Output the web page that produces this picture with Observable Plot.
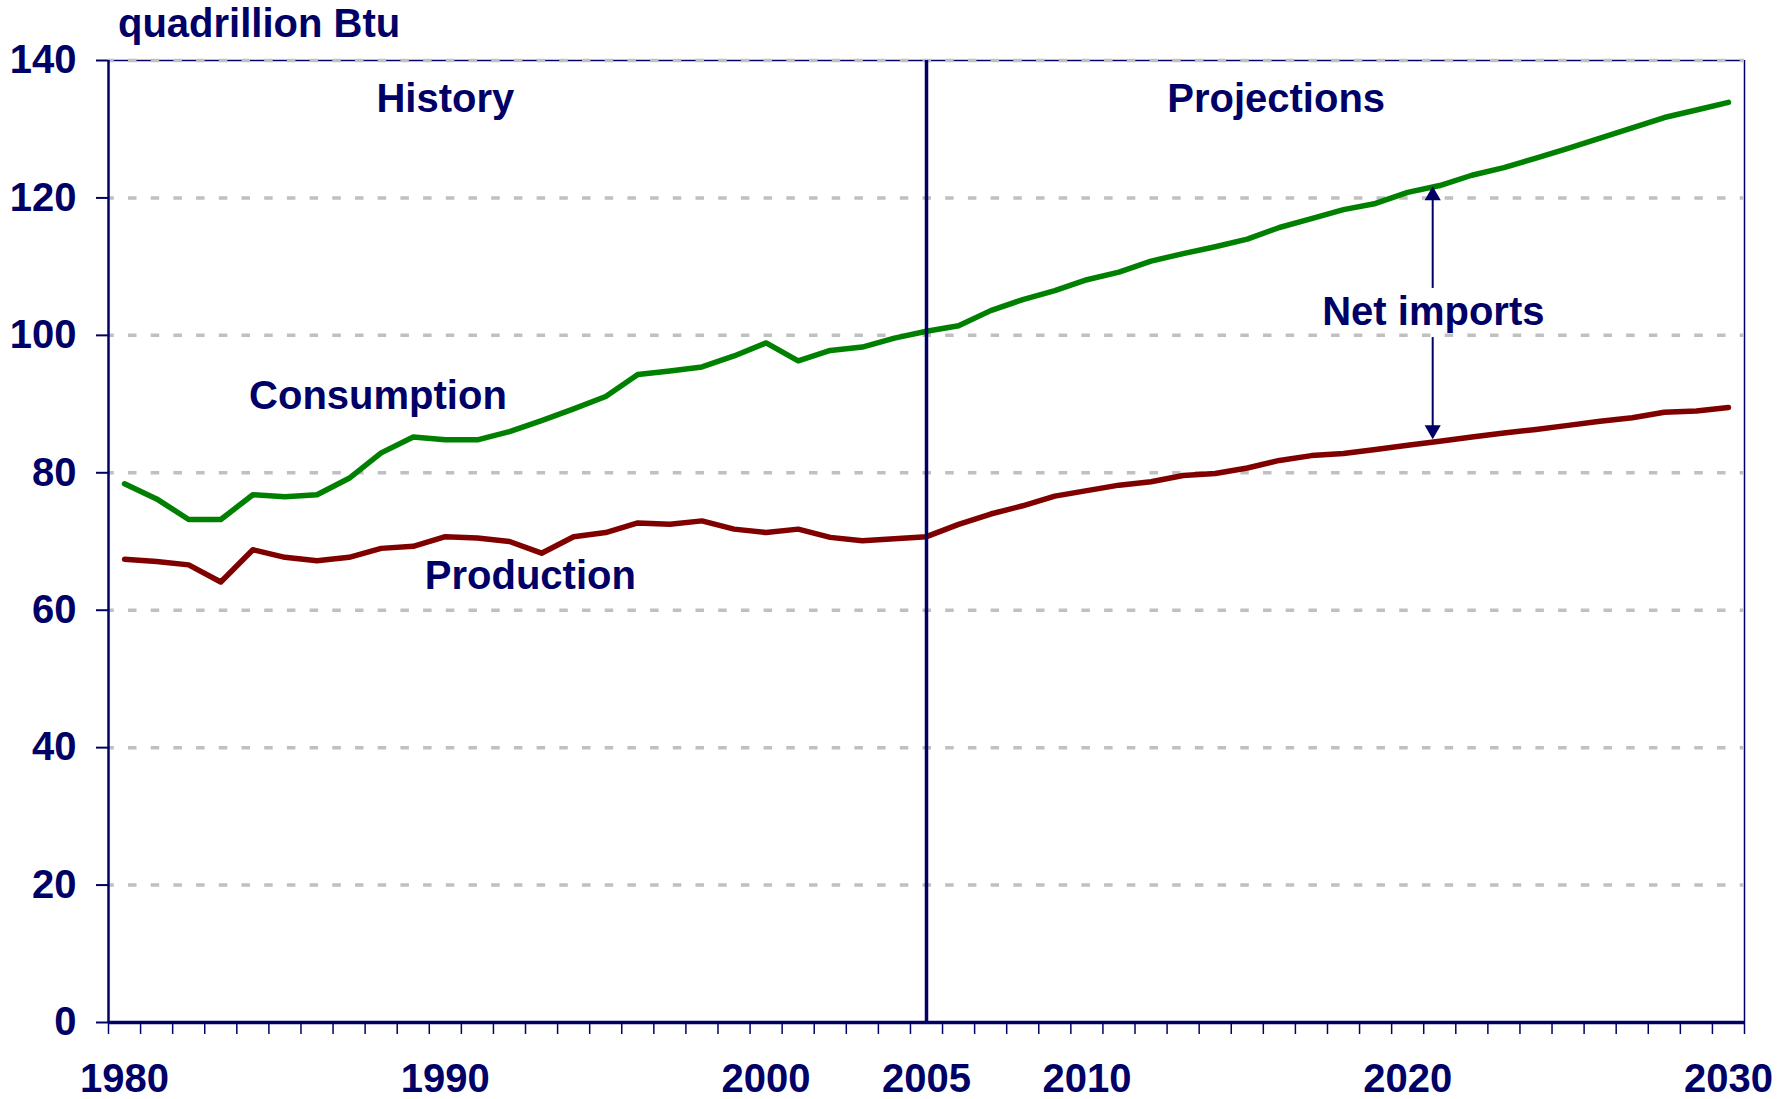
<!DOCTYPE html>
<html>
<head>
<meta charset="utf-8">
<script src="https://cdn.jsdelivr.net/npm/d3@7"></script>
<script src="https://cdn.jsdelivr.net/npm/@observablehq/plot@0.6"></script>
<style>
  html, body { margin: 0; padding: 0; background: #ffffff; }
  #wrap { width: 1787px; height: 1099px; overflow: hidden; font-family: "Liberation Sans", Arial, sans-serif; }
  #unit { height: 40px; padding-top: 3px; padding-left: 118px; font-size: 40px; line-height: 40px; font-weight: bold; color: #000066; }
</style>
</head>
<body>
<div id="wrap">
  <div id="unit">quadrillion Btu</div>
  <div id="chart"></div>
</div>
<script>
const years = d3.range(1980, 2031);
const consumption = [
  78.4, 76.2, 73.2, 73.2, 76.8, 76.5, 76.8, 79.2, 82.9, 85.2,
  84.8, 84.8, 86.0, 87.6, 89.3, 91.1, 94.3, 94.8, 95.4, 97.0,
  98.9, 96.3, 97.8, 98.3, 99.6, 100.6, 101.4, 103.6, 105.2, 106.5,
  108.1, 109.2, 110.8, 111.9, 112.9, 114.0, 115.7, 117.0, 118.3, 119.2,
  120.8, 121.8, 123.3, 124.4, 125.8, 127.2, 128.7, 130.2, 131.7, 132.8,
  133.9
];
const production = [
  67.4, 67.1, 66.6, 64.1, 68.8, 67.7, 67.2, 67.7, 69.0, 69.3,
  70.7, 70.5, 70.0, 68.3, 70.7, 71.3, 72.7, 72.5, 73.0, 71.8,
  71.3, 71.8, 70.6, 70.1, 70.4, 70.7, 72.5, 74.0, 75.2, 76.6,
  77.4, 78.2, 78.7, 79.6, 79.9, 80.7, 81.8, 82.5, 82.8, 83.4,
  84.0, 84.6, 85.2, 85.8, 86.3, 86.9, 87.5, 88.0, 88.8, 89.0,
  89.5
];
const yTicks = [0, 20, 40, 60, 80, 100, 120, 140];
const gridValues = [20, 40, 60, 80, 100, 120, 140];
const xTickLabels = [1980, 1990, 2000, 2005, 2010, 2020, 2030];
const xBoundaries = d3.range(1979.5, 2031, 1);
const splitYear = 2005;
const annotations = [
  {label: "History", year: 1990, value: 134.3},
  {label: "Projections", year: 2015.9, value: 134.3},
  {label: "Consumption", year: 1987.9, value: 91.2},
  {label: "Production", year: 1992.65, value: 64.9},
  {label: "Net imports", year: 2020.8, value: 103.3}
];
const arrowUp = [{year: 2020.78, tip: 121.7, tail: 107.7}];
const arrowDown = [{year: 2020.78, tip: 84.9, tail: 98.8}];

const navy = "#000066";
const consumptionData = years.map((y, i) => ({year: y, value: consumption[i]}));
const productionData = years.map((y, i) => ({year: y, value: production[i]}));

const chart = Plot.plot({
  width: 1787,
  height: 1056,
  marginLeft: 108,
  marginRight: 43,
  marginTop: 17,
  marginBottom: 77,
  style: {color: navy, background: "#ffffff", fontFamily: "'Liberation Sans', Arial, sans-serif", overflow: "visible"},
  x: {domain: [1979.5, 2030.5]},
  y: {domain: [0, 140]},
  marks: [
    Plot.ruleY([140], {stroke: navy, strokeWidth: 1.5}),
    Plot.ruleX([2030.5], {stroke: navy, strokeWidth: 1.5}),
    Plot.ruleY(gridValues, {stroke: "#c0c0c0", strokeWidth: 3.5, strokeDasharray: "8.5,14.2", strokeDashoffset: -20}),
    Plot.axisY({ticks: yTicks, tickSize: 12, tickPadding: 20, tickFormat: d => String(d), fontSize: 40, fontWeight: "bold", strokeWidth: 2, label: null}),
    Plot.axisX({ticks: xBoundaries, tickSize: 12, tickFormat: () => "", strokeWidth: 1.5, label: null}),
    Plot.axisX({ticks: xTickLabels, tickSize: 0, tickPadding: 41, tickFormat: d => String(d), fontSize: 40, fontWeight: "bold", label: null}),
    Plot.line(consumptionData, {x: "year", y: "value", stroke: "#008000", strokeWidth: 5.5, strokeLinejoin: "round", strokeLinecap: "round"}),
    Plot.line(productionData, {x: "year", y: "value", stroke: "#800000", strokeWidth: 5.5, strokeLinejoin: "round", strokeLinecap: "round"}),
    Plot.ruleX([splitYear], {stroke: navy, strokeWidth: 3.5}),
    Plot.ruleX([1979.5], {stroke: navy, strokeWidth: 2.5}),
    Plot.ruleY([0], {stroke: navy, strokeWidth: 3.5}),
    Plot.ruleX(arrowUp, {x: "year", y1: "tail", y2: "tip", stroke: navy, strokeWidth: 2, dy: 6}),
    Plot.ruleX(arrowDown, {x: "year", y1: "tail", y2: "tip", stroke: navy, strokeWidth: 2, dy: -6}),
    Plot.dot(arrowUp, {x: "year", y: "tip", symbol: "triangle", r: 6, fill: navy, stroke: "none", dy: 9.3}),
    Plot.dot(arrowDown, {x: "year", y: "tip", symbol: "triangle", r: 6, fill: navy, stroke: "none", rotate: 180, dy: -9.3}),
    Plot.text(annotations, {x: "year", y: "value", text: "label", fontSize: 40, fontWeight: "bold", fill: navy, textAnchor: "middle", lineAnchor: "middle"})
  ]
});
document.getElementById("chart").appendChild(chart);
</script>
</body>
</html>
